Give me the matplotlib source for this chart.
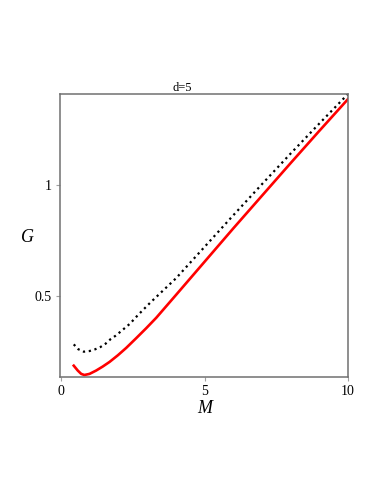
import matplotlib
matplotlib.use("Agg")
import matplotlib.pyplot as plt

# values
m_red = [0.43, 0.57, 0.69, 0.80, 0.98, 1.21, 1.44, 1.68, 1.97, 2.26, 2.61, 2.96,
         3.31, 4.0, 5.0, 6.0, 7.0, 8.0, 9.0, 10.0]
g_red = [0.186, 0.164, 0.149, 0.144, 0.149, 0.164, 0.182, 0.203, 0.233, 0.266,
         0.31, 0.355, 0.402, 0.505, 0.655, 0.805, 0.952, 1.099, 1.244, 1.387]

m_dot = [0.43, 0.59, 0.78, 0.98, 1.18, 1.36, 1.54, 1.71, 1.89, 2.06, 2.39, 2.67,
         3.10, 4.0, 5.0, 6.0, 7.0, 8.0, 9.0, 10.0]
g_dot = [0.282, 0.260, 0.249, 0.252, 0.260, 0.270, 0.285, 0.305, 0.321, 0.339,
         0.375, 0.414, 0.470, 0.58, 0.722, 0.864, 1.004, 1.142, 1.277, 1.41]

x_ticks = [0, 5, 10]
y_ticks = [0.5, 1]

serif = ["Liberation Serif", "DejaVu Serif"]

fig = plt.figure(figsize=(3.82, 4.94), dpi=100)
ax = fig.add_axes([60 / 382, 1 - 377 / 494, 288 / 382, 283 / 494])

ax.plot(m_dot, g_dot, color="black", linestyle=":", linewidth=1.6)
ax.plot(m_red, g_red, color="red", linewidth=1.9)

ax.set_xlim(-0.05, 10)
ax.set_ylim(0.135, 1.41)
ax.set_xticks(x_ticks)
ax.set_xticklabels([str(t) for t in x_ticks], family=serif, fontsize=10)
ax.set_yticks(y_ticks)
ax.set_yticklabels([str(t) for t in y_ticks], family=serif, fontsize=10)
ax.tick_params(length=3, width=0.8, color="#a0a0a0", pad=3)

for s in ax.spines.values():
    s.set_color("#707070")
    s.set_linewidth(1.1)

fig.text(182 / 382, 1 - 88 / 494, "d=5", family=serif, fontsize=9,
         ha="center", va="center")
fig.text(28 / 382, 1 - 237 / 494, "G", family=serif, style="italic",
         fontsize=13, ha="center", va="center")
fig.text(205 / 382, 1 - 408 / 494, "M", family=serif, style="italic",
         fontsize=13, ha="center", va="center")

fig.savefig("out.png", dpi=100)
